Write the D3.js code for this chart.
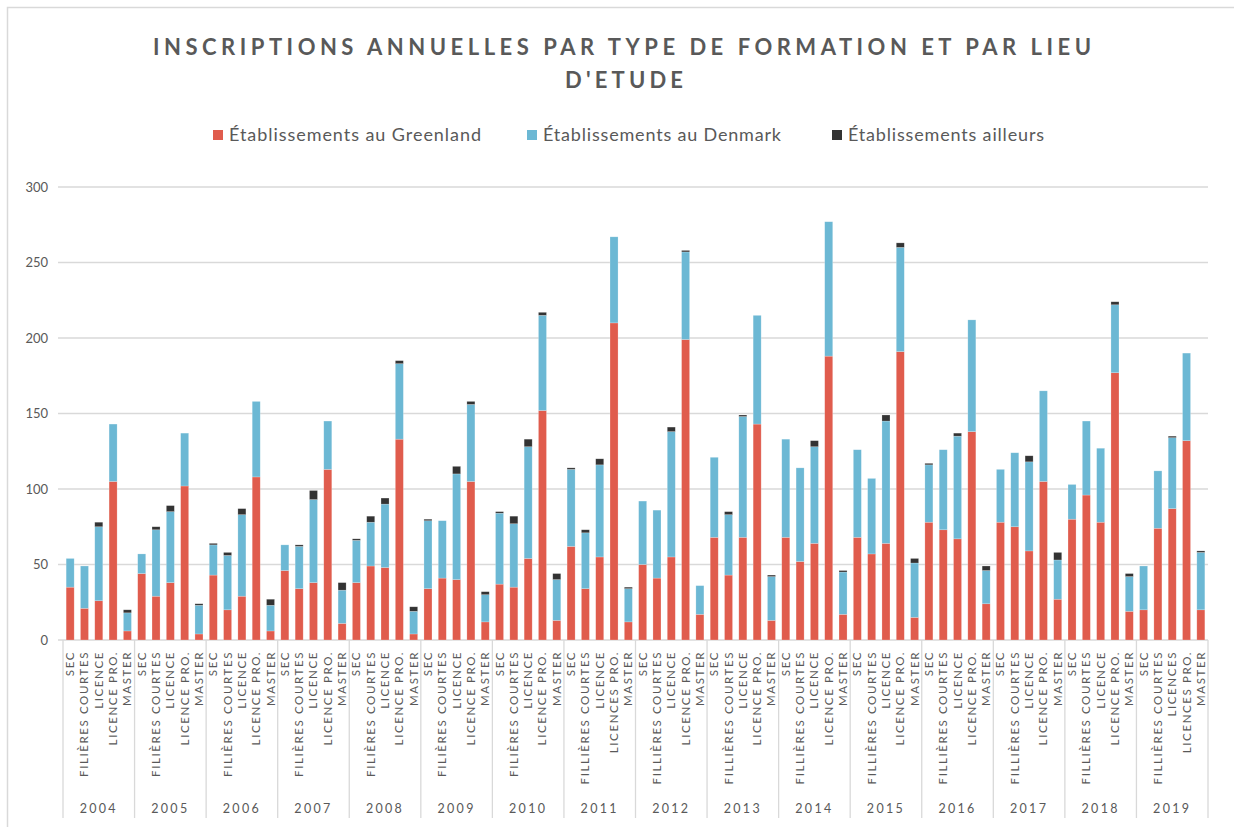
<!DOCTYPE html>
<html>
<head>
<meta charset="UTF-8">
<title>Inscriptions annuelles</title>
<script src="https://cdnjs.cloudflare.com/ajax/libs/d3/7.8.5/d3.min.js"></script>
<style>
    body { margin: 0; background: #fff; }
    svg text { font-family: Lato, "Open Sans", sans-serif; fill: #595959; }
</style>
</head>
<body>
<div id="chart"></div>
<script>
// --- data ---
const years = ["2004","2005","2006","2007","2008","2009","2010","2011","2012","2013","2014","2015","2016","2017","2018","2019"];
const formations = {
    "2004": ["SEC","FILIÈRES COURTES","LICENCE","LICENCE PRO.","MASTER"],
    "2005": ["SEC","FILIÈRES COURTES","LICENCE","LICENCE PRO.","MASTER"],
    "2006": ["SEC","FILIÈRES COURTES","LICENCE","LICENCE PRO.","MASTER"],
    "2007": ["SEC","FILIÈRES COURTES","LICENCE","LICENCE PRO.","MASTER"],
    "2008": ["SEC","FILIÈRES COURTES","LICENCE","LICENCE PRO.","MASTER"],
    "2009": ["SEC","FILIÈRES COURTES","LICENCE","LICENCE PRO.","MASTER"],
    "2010": ["SEC","FILIÈRES COURTES","LICENCE","LICENCE PRO.","MASTER"],
    "2011": ["SEC","FILLIÈRES COURTES","LICENCE","LICENCES PRO.","MASTER"],
    "2012": ["SEC","FILLIÈRES COURTES","LICENCE","LICENCE PRO.","MASTER"],
    "2013": ["SEC","FILLIÈRES COURTES","LICENCE","LICENCE PRO.","MASTER"],
    "2014": ["SEC","FILLIÈRES COURTES","LICENCE","LICENCE PRO.","MASTER"],
    "2015": ["SEC","FILLIÈRES COURTES","LICENCE","LICENCE PRO.","MASTER"],
    "2016": ["SEC","FILLIÈRES COURTES","LICENCE","LICENCE PRO.","MASTER"],
    "2017": ["SEC","FILLIÈRES COURTES","LICENCE","LICENCE PRO.","MASTER"],
    "2018": ["SEC","FILLIÈRES COURTES","LICENCE","LICENCE PRO.","MASTER"],
    "2019": ["SEC","FILLIÈRES COURTES","LICENCES","LICENCES PRO.","MASTER"]
};
const seriesNames = ["Établissements au Greenland", "Établissements au Denmark", "Établissements ailleurs"];

// one row per year, 5 values each (SEC, filières courtes, licence, licence pro., master)
const greenland = [
    35, 21, 26, 105, 6,
    44, 29, 38, 102, 4,
    43, 20, 29, 108, 6,
    46, 34, 38, 113, 11,
    38, 49, 48, 133, 4,
    34, 41, 40, 105, 12,
    37, 35, 54, 152, 13,
    62, 34, 55, 210, 12,
    50, 41, 55, 199, 17,
    68, 43, 68, 143, 13,
    68, 52, 64, 188, 17,
    68, 57, 64, 191, 15,
    78, 73, 67, 138, 24,
    78, 75, 59, 105, 27,
    80, 96, 78, 177, 19,
    20, 74, 87, 132, 20
];
const denmark = [
    19, 28, 49, 38, 12,
    13, 44, 47, 35, 19,
    20, 36, 54, 50, 17,
    17, 28, 55, 32, 22,
    28, 29, 42, 50, 15,
    45, 38, 70, 51, 18,
    47, 42, 74, 63, 27,
    51, 37, 61, 57, 22,
    42, 45, 83, 58, 19,
    53, 40, 80, 72, 29,
    65, 62, 64, 89, 28,
    58, 50, 81, 69, 36,
    38, 53, 68, 74, 22,
    35, 49, 59, 60, 26,
    23, 49, 49, 45, 23,
    29, 38, 47, 58, 38
];
const ailleurs = [
    0, 0, 3, 0, 2,
    0, 2, 4, 0, 1,
    1, 2, 4, 0, 4,
    0, 1, 6, 0, 5,
    1, 4, 4, 2, 3,
    1, 0, 5, 2, 2,
    1, 5, 5, 2, 4,
    1, 2, 4, 0, 1,
    0, 0, 3, 1, 0,
    0, 2, 1, 0, 1,
    0, 0, 4, 0, 1,
    0, 0, 4, 3, 3,
    1, 0, 2, 0, 3,
    0, 0, 4, 0, 5,
    0, 0, 0, 2, 2,
    0, 0, 1, 0, 1
];
const yTicks = [0, 50, 100, 150, 200, 250, 300];
const colors = ["#e05c4d", "#6cb8d4", "#333333"];

// --- build rows ---
const rows = [];
years.forEach((yr, gi) => {
    formations[yr].forEach((f, fi) => {
        const i = gi * 5 + fi;
        rows.push({ key: yr + "|" + fi, year: yr, label: f,
            g: greenland[i], d: denmark[i], a: ailleurs[i] });
    });
});

const W = 1234, H = 827;
const margin = { left: 63, right: 26, top: 187, bottom: 187 };
const svg = d3.select("#chart").append("svg").attr("width", W).attr("height", H);

// outer frame
svg.append("rect").attr("x", 7.5).attr("y", 7.5).attr("width", 1300).attr("height", 1000)
    .attr("fill", "none").attr("stroke", "#d9d9d9").attr("stroke-width", 1.5);

const x = d3.scaleBand().domain(rows.map(r => r.key))
    .range([margin.left, W - margin.right]).paddingInner(0.44).paddingOuter(0.22);
const y = d3.scaleLinear().domain([0, 300]).range([640, 187]);

// gridlines + y labels
svg.append("g").selectAll("line").data(yTicks).join("line")
    .attr("x1", margin.left - 5).attr("x2", W - margin.right)
    .attr("y1", d => y(d)).attr("y2", d => y(d))
    .attr("stroke", "#d9d9d9").attr("stroke-width", 1.3);
svg.append("g").selectAll("text").data(yTicks).join("text")
    .attr("x", 48).attr("y", d => y(d)).attr("dy", "0.35em")
    .attr("text-anchor", "end").style("font-size", "13px").text(d => d);

// stacked bars
const stack = d3.stack().keys(["g", "d", "a"])(rows);
svg.append("g").selectAll("g").data(stack).join("g")
    .attr("fill", (d, i) => colors[i])
    .selectAll("rect").data(d => d).join("rect")
    .attr("x", d => x(d.data.key))
    .attr("width", x.bandwidth())
    .attr("y", d => y(d[1]))
    .attr("height", d => Math.max(0, y(d[0]) - y(d[1])))
    .attr("stroke", "#ffffff").attr("stroke-opacity", 0.35).attr("stroke-width", 0.6);

// group separators
const step = x.step();
const groupW = step * 5;
const sepX = d3.range(years.length + 1).map(i => margin.left + i * groupW);
svg.append("g").selectAll("line").data(sepX).join("line")
    .attr("x1", d => d).attr("x2", d => d).attr("y1", 640).attr("y2", 818)
    .attr("stroke", "#d9d9d9").attr("stroke-width", 1.3);

// category labels (rotated)
svg.append("g").selectAll("text").data(rows).join("text")
    .attr("transform", d => `translate(${x(d.key) + x.bandwidth() / 2 + 4},651) rotate(-90)`)
    .attr("text-anchor", "end")
    .style("font-size", "11.5px").style("letter-spacing", "1.6px")
    .text(d => d.label);

// year labels
svg.append("g").selectAll("text").data(years).join("text")
    .attr("x", (d, i) => margin.left + (i + 0.5) * groupW)
    .attr("y", 809).attr("dy", "0.35em").attr("text-anchor", "middle")
    .style("font-size", "12.5px").style("letter-spacing", "2.3px")
    .text(d => d);

// title
const title = svg.append("g").style("font-weight", "bold").style("font-size", "22px");
title.append("text").attr("x", 622).attr("y", 55).attr("text-anchor", "middle")
    .attr("textLength", 938).attr("lengthAdjust", "spacing")
    .text("INSCRIPTIONS ANNUELLES PAR TYPE DE FORMATION ET PAR LIEU");
title.append("text").attr("x", 624).attr("y", 88).attr("text-anchor", "middle")
    .attr("textLength", 118).attr("lengthAdjust", "spacing")
    .text("D'ETUDE");

// legend
const legendX = [213, 527, 832];
const legendW = [252, 238, 196];
const lg = svg.append("g").selectAll("g").data(seriesNames).join("g")
    .attr("transform", (d, i) => `translate(${legendX[i]},135)`);
lg.append("rect").attr("x", 0).attr("y", -5).attr("width", 10).attr("height", 10)
    .attr("fill", (d, i) => colors[i]);
lg.append("text").attr("x", 16).attr("dy", "0.35em")
    .attr("textLength", (d, i) => legendW[i]).attr("lengthAdjust", "spacing")
    .style("font-size", "18px").text(d => d);
</script>
</body>
</html>
